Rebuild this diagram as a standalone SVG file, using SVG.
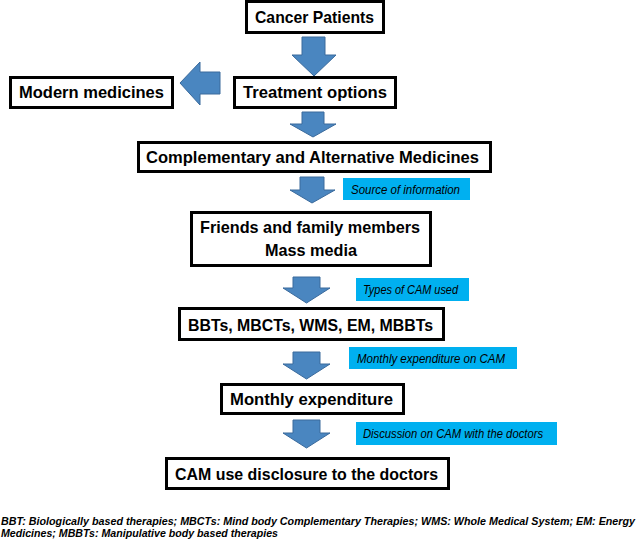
<svg xmlns="http://www.w3.org/2000/svg" width="640" height="543" viewBox="0 0 640 543">
<style>
.box{fill:#fff;stroke:#000;stroke-width:3}
.bt{font-family:"Liberation Sans",Arial,sans-serif;font-weight:bold;font-size:16.5px;fill:#000;text-anchor:middle}
.arr{fill:#4A86C0;stroke:#3A6A9C;stroke-width:1}
.lab{fill:#00B0F0}
.lt{font-family:"Liberation Sans",Arial,sans-serif;font-style:italic;font-size:12px;fill:#000}
.fn{font-family:"Liberation Sans",Arial,sans-serif;font-style:italic;font-weight:bold;font-size:10.5px;fill:#000}
</style>
<rect width="640" height="543" fill="#fff"/>
<g id="connectors">
<polygon class="arr" points="302,37 325,37 325,55 336,55 314,76 292,55 302,55"/>
<polygon class="arr" points="220,72 220,94 200,94 200,105 180,83 200,62 200,72"/>
<polygon class="arr" points="302,112 324,112 324,124 336,124 313,137 290,124 302,124"/>
<polygon class="arr" points="300,177 324,177 324,190 335,190 312,203 290,190 300,190"/>
<polygon class="arr" points="293,277 320,277 320,288 330,288 306.5,303 283,288 293,288"/>
<polygon class="arr" points="293,352 320,352 320,364 330,364 306.5,379 283,364 293,364"/>
<polygon class="arr" points="293,420 320,420 320,433 330,433 306.5,448 283,433 293,433"/>
</g>
<g id="label-source">
<rect class="lab" x="343" y="178" width="127" height="22"/>
<text class="lt" x="351" y="193.5" textLength="109" lengthAdjust="spacingAndGlyphs">Source of information</text>
</g>
<g id="label-types">
<rect class="lab" x="356" y="278" width="113" height="23"/>
<text class="lt" x="363" y="293.5" textLength="95" lengthAdjust="spacingAndGlyphs">Types of CAM used</text>
</g>
<g id="label-monthly">
<rect class="lab" x="349" y="347" width="168" height="22"/>
<text class="lt" x="357" y="362.5" textLength="148" lengthAdjust="spacingAndGlyphs">Monthly expenditure on CAM</text>
</g>
<g id="label-discussion">
<rect class="lab" x="356" y="422" width="201" height="23"/>
<text class="lt" x="363" y="437.5" textLength="180" lengthAdjust="spacingAndGlyphs">Discussion on CAM with the doctors</text>
</g>
<g id="cancer-patients">
<rect class="box" x="246.5" y="1.5" width="137" height="31"/>
<text class="bt" x="314.5" y="23" textLength="119" lengthAdjust="spacingAndGlyphs">Cancer Patients</text>
</g>
<g id="treatment-options">
<rect class="box" x="234.5" y="77.5" width="161" height="30"/>
<text class="bt" x="315" y="98" textLength="144" lengthAdjust="spacingAndGlyphs">Treatment options</text>
</g>
<g id="modern-medicines">
<rect class="box" x="10.5" y="77.5" width="162" height="30"/>
<text class="bt" x="91.5" y="98" textLength="145" lengthAdjust="spacingAndGlyphs">Modern medicines</text>
</g>
<g id="cam">
<rect class="box" x="138.5" y="142.5" width="352" height="29"/>
<text class="bt" x="312.5" y="163" textLength="333" lengthAdjust="spacingAndGlyphs">Complementary and Alternative Medicines</text>
</g>
<g id="friends">
<rect class="box" x="191.5" y="212.5" width="239" height="53"/>
<text class="bt" x="310" y="233" textLength="220" lengthAdjust="spacingAndGlyphs">Friends and family members</text>
<text class="bt" x="311" y="256" textLength="92" lengthAdjust="spacingAndGlyphs">Mass media</text>
</g>
<g id="types">
<rect class="box" x="179.5" y="308.5" width="264" height="31"/>
<text class="bt" x="310.5" y="331" textLength="245" lengthAdjust="spacingAndGlyphs">BBTs, MBCTs, WMS, EM, MBBTs</text>
</g>
<g id="monthly-expenditure">
<rect class="box" x="221.5" y="384.5" width="182" height="29"/>
<text class="bt" x="311.5" y="405" textLength="163" lengthAdjust="spacingAndGlyphs">Monthly expenditure</text>
</g>
<g id="disclosure">
<rect class="box" x="166.5" y="458.5" width="282" height="30"/>
<text class="bt" x="306.5" y="480" textLength="263" lengthAdjust="spacingAndGlyphs">CAM use disclosure to the doctors</text>
</g>
<g id="footnote">
<text class="fn" x="1" y="525" textLength="634" lengthAdjust="spacingAndGlyphs">BBT: Biologically based therapies; MBCTs: Mind body Complementary Therapies; WMS: Whole Medical System; EM: Energy</text>
<text class="fn" x="1" y="537" textLength="277" lengthAdjust="spacingAndGlyphs">Medicines; MBBTs: Manipulative body based therapies</text>
</g>
</svg>
